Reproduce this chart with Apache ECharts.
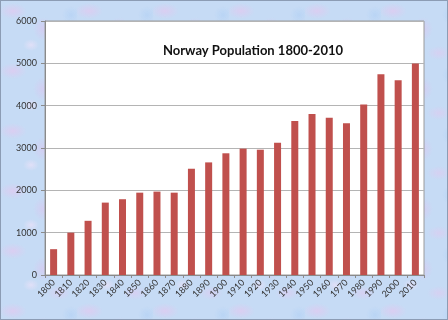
<!DOCTYPE html>
<html>
<head>
<meta charset="utf-8">
<script src="https://cdn.jsdelivr.net/npm/echarts@6/dist/echarts.min.js"></script>
<style>
html,body{margin:0;padding:0;}
#wrap{width:448px;height:320px;box-sizing:border-box;border:1px solid #8c9cb4;
background-color:#c6dbf5;
background-image:
radial-gradient(ellipse 14px 8px at 12px 10px, rgba(224,202,240,0.75), rgba(224,202,240,0) 100%),
radial-gradient(ellipse 10px 12px at 42px 28px, rgba(216,200,240,0.7), rgba(216,200,240,0) 100%),
radial-gradient(ellipse 8px 6px at 30px 44px, rgba(235,225,248,0.7), rgba(235,225,248,0) 100%),
radial-gradient(ellipse 12px 7px at 58px 52px, rgba(224,202,240,0.6), rgba(224,202,240,0) 100%),
radial-gradient(ellipse 9px 9px at 70px 14px, rgba(180,210,245,0.7), rgba(180,210,245,0) 100%);
background-size:76px 60px;}
#chart{width:446px;height:318px;}
</style>
</head>
<body>
<div id="wrap"><div id="chart"></div></div>
<script>
var years = ['1800','1810','1820','1830','1840','1850','1860','1870','1880','1890','1900','1910','1920','1930','1940','1950','1960','1970','1980','1990','2000','2010'];
var population = [610,1000,1280,1710,1790,1945,1970,1945,2510,2660,2875,2985,2960,3125,3640,3805,3715,3585,4030,4740,4600,4995];
var yTicks = [0,1000,2000,3000,4000,5000,6000];
var chartTitle = 'Norway Population 1800-2010';

var chart = echarts.init(document.getElementById('chart'), null, {renderer:'canvas'});
chart.setOption({
  backgroundColor: 'transparent',
  animation: false,
  title: {
    text: chartTitle,
    left: 247, top: 38, textAlign: 'center',
    textStyle: {fontFamily: 'Lato', fontWeight: 'bold', fontSize: 13, color: '#111'}
  },
  grid: {left: 44, top: 20, right: 23, bottom: 44, show: true, backgroundColor: '#fff', borderColor: '#9a9a9a', borderWidth: 1},
  xAxis: {
    type: 'category', data: years,
    axisLine: {lineStyle: {color: '#8a8a8a'}},
    axisTick: {show: true, length: 3, lineStyle: {color: '#8a8a8a'}},
    axisLabel: {rotate: 45, fontSize: 9, fontFamily: 'Lato', color: '#333', margin: 6, interval: 0}
  },
  yAxis: {
    type: 'value', min: yTicks[0], max: yTicks[yTicks.length-1], interval: 1000,
    axisLine: {show: true, lineStyle: {color: '#8a8a8a'}},
    axisTick: {show: true, length: 4, lineStyle: {color: '#8a8a8a'}},
    axisLabel: {fontSize: 9, fontFamily: 'Lato', color: '#333', margin: 8, formatter: function(v){return String(v);}},
    splitLine: {lineStyle: {color: '#b4b4b4'}}
  },
  series: [{
    type: 'bar', data: population, barWidth: 7,
    itemStyle: {color: '#c0504d'}
  }]
});
</script>
</body>
</html>
